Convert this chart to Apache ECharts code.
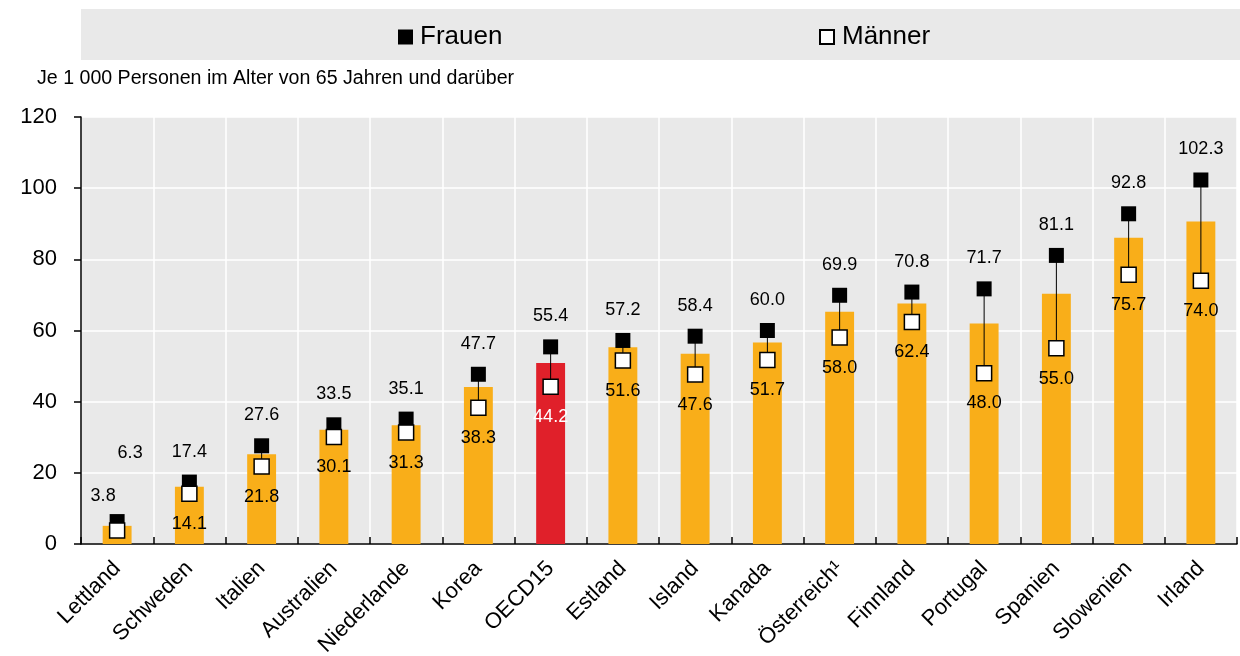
<!DOCTYPE html>
<html>
<head>
<meta charset="utf-8">
<script src="https://cdn.jsdelivr.net/npm/echarts@6/dist/echarts.min.js"></script>
<style>
  html, body { margin: 0; padding: 0; background: #fff; }
  #chart { width: 1240px; height: 656px; }
</style>
</head>
<body>
<div id="chart"></div>
<script>
// Daten
const categories = ['Lettland', 'Schweden', 'Italien', 'Australien', 'Niederlande', 'Korea', 'OECD15', 'Estland',
  'Island', 'Kanada', 'Österreich¹', 'Finnland', 'Portugal', 'Spanien', 'Slowenien', 'Irland'];
const totalValues = [5.1, 16.1, 25.2, 32.1, 33.4, 44.1, 50.9, 55.3, 53.5, 56.6, 65.3, 67.6, 62.0, 70.3, 86.1, 90.6];
const frauenValues = [6.3, 17.4, 27.6, 33.5, 35.1, 47.7, 55.4, 57.2, 58.4, 60.0, 69.9, 70.8, 71.7, 81.1, 92.8, 102.3];
const maennerValues = [3.8, 14.1, 21.8, 30.1, 31.3, 38.3, 44.2, 51.6, 47.6, 51.7, 58.0, 62.4, 48.0, 55.0, 75.7, 74.0];
const yTicks = [0, 20, 40, 60, 80, 100, 120];

const FONT = "'Liberation Sans Narrow', 'Arial Narrow', 'Liberation Sans', Arial, sans-serif";
const ORANGE = '#F9AE19';
const RED = '#E0202A';

const chart = echarts.init(document.getElementById('chart'), null, { renderer: 'canvas' });

const barData = totalValues.map((v, i) => ({
  value: v,
  itemStyle: { color: categories[i] === 'OECD15' ? RED : ORANGE }
}));

// Sonderfall Lettland: Beschriftungen seitlich versetzt
const frauenData = frauenValues.map((v, i) => {
  if (i === 0) return { value: v, label: { offset: [13, -38] } };
  return v;
});
const maennerData = maennerValues.map((v, i) => {
  if (i === 0) return { value: v, label: { position: 'top', offset: [-14, -4] } };
  if (categories[i] === 'OECD15') return { value: v, label: { color: '#fff' } };
  return v;
});

chart.setOption({
  animation: false,
  textStyle: { fontFamily: FONT },
  graphic: [
    { type: 'rect', shape: { x: 81, y: 9, width: 1159, height: 51 }, style: { fill: '#e9e9e9' }, z: -1 },
    { type: 'text', left: 37, top: 69, style: { text: 'Je 1 000 Personen im Alter von 65 Jahren und darüber', font: '19.6px ' + FONT, fill: '#000' } }
  ],
  legend: [
    {
      data: ['Frauen'], left: 393, top: 19, itemWidth: 15, itemHeight: 15, itemGap: 0,
      textStyle: { fontSize: 26, color: '#000', fontFamily: FONT, padding: [0, 0, 0, 2] }
    },
    {
      data: ['Männer'], left: 814, top: 19, itemWidth: 14, itemHeight: 14, itemGap: 0,
      textStyle: { fontSize: 26, color: '#000', fontFamily: FONT, padding: [0, 0, 0, 3] }
    }
  ],
  grid: {
    left: 81, right: 3, top: 117, bottom: 112,
    show: true, backgroundColor: '#e9e9e9', borderWidth: 0,
    containLabel: false, outerBoundsMode: 'none'
  },
  xAxis: {
    type: 'category',
    data: categories,
    axisLine: { lineStyle: { color: '#000', width: 1.5 } },
    axisTick: { show: true, inside: true, length: 7, alignWithLabel: false, lineStyle: { color: '#000', width: 1.5 } },
    axisLabel: { rotate: 45, fontSize: 22, color: '#000', margin: 21, interval: 0, fontFamily: FONT },
    splitLine: { show: true, lineStyle: { color: '#fff', width: 1.5 } }
  },
  yAxis: {
    type: 'value',
    min: yTicks[0], max: yTicks[yTicks.length - 1], interval: 20,
    axisLine: { show: true, lineStyle: { color: '#000', width: 1.5 } },
    axisTick: { show: true, length: 7, lineStyle: { color: '#000', width: 1.5 } },
    axisLabel: { fontSize: 22, color: '#000', margin: 24, fontFamily: FONT },
    splitLine: { show: true, lineStyle: { color: '#fff', width: 1.5 } }
  },
  series: [
    {
      name: 'Insgesamt',
      type: 'bar',
      data: barData,
      barWidth: '40%',
      z: 2
    },
    {
      name: 'Spanne',
      type: 'custom',
      data: frauenValues.map((v, i) => [i, v, maennerValues[i]]),
      renderItem: (params, api) => {
        const p1 = api.coord([api.value(0), api.value(1)]);
        const p2 = api.coord([api.value(0), api.value(2)]);
        return {
          type: 'line',
          shape: { x1: p1[0], y1: p1[1], x2: p2[0], y2: p2[1] },
          style: { stroke: '#000', lineWidth: 1 }
        };
      },
      z: 3,
      silent: true
    },
    {
      name: 'Frauen',
      type: 'scatter',
      data: frauenData,
      symbol: 'rect',
      symbolSize: 15,
      itemStyle: { color: '#000', opacity: 1 },
      label: {
        show: true, position: 'top', distance: 14,
        fontSize: 18, color: '#000', fontFamily: FONT,
        formatter: p => p.value.toFixed(1)
      },
      z: 4
    },
    {
      name: 'Männer',
      type: 'scatter',
      data: maennerData,
      symbol: 'rect',
      symbolSize: 15,
      itemStyle: { color: '#fff', borderColor: '#000', borderWidth: 1.5, opacity: 1 },
      label: {
        show: true, position: 'bottom', distance: 13,
        fontSize: 18, color: '#000', fontFamily: FONT,
        formatter: p => p.value.toFixed(1)
      },
      z: 5
    }
  ]
});
</script>
</body>
</html>
